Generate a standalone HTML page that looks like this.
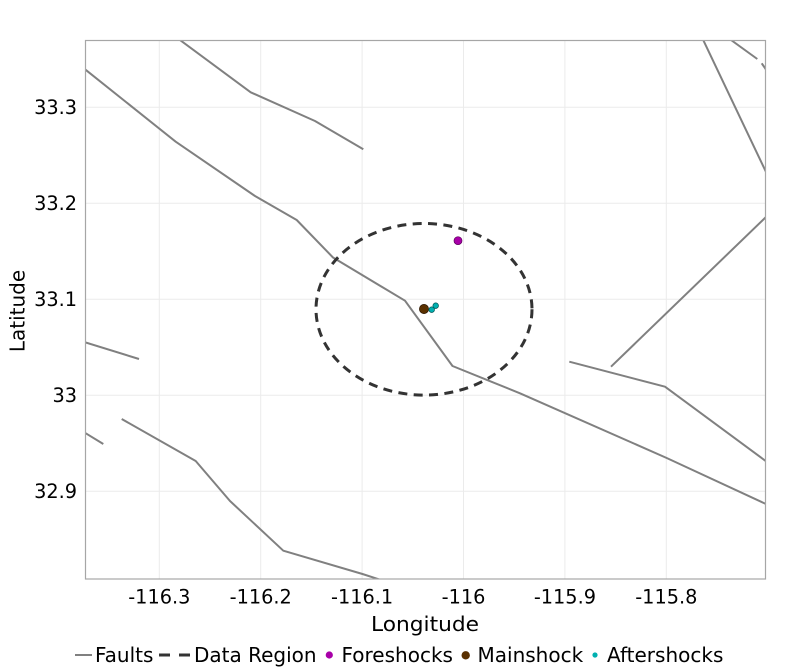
<!DOCTYPE html>
<html>
<head>
<meta charset="utf-8">
<style>
html,body{margin:0;padding:0;background:#fff;}
svg{display:block;}
text{font-family:"DejaVu Sans","Liberation Sans",sans-serif;fill:#000;}
</style>
</head>
<body>
<svg width="800" height="670" viewBox="0 0 800 670" xmlns="http://www.w3.org/2000/svg">
<defs>
<clipPath id="pc"><rect x="85.5" y="40" width="680" height="539"/></clipPath>
</defs>
<rect x="0" y="0" width="800" height="670" fill="#fff"/>
<!-- grid -->
<g stroke="#ebebeb" stroke-width="1">
<line x1="159.3" y1="40" x2="159.3" y2="579"/>
<line x1="260.7" y1="40" x2="260.7" y2="579"/>
<line x1="362.1" y1="40" x2="362.1" y2="579"/>
<line x1="463.5" y1="40" x2="463.5" y2="579"/>
<line x1="564.9" y1="40" x2="564.9" y2="579"/>
<line x1="666.3" y1="40" x2="666.3" y2="579"/>
<line x1="85.5" y1="107.3" x2="765.5" y2="107.3"/>
<line x1="85.5" y1="203.3" x2="765.5" y2="203.3"/>
<line x1="85.5" y1="299.3" x2="765.5" y2="299.3"/>
<line x1="85.5" y1="395.3" x2="765.5" y2="395.3"/>
<line x1="85.5" y1="491.3" x2="765.5" y2="491.3"/>
</g>
<g clip-path="url(#pc)" fill="none" stroke="#808080" stroke-width="2" stroke-linejoin="round">
<polyline points="84,68.5 175.7,141.7 255,196 296.7,220 333,257.5 405,300.7 452.5,366 520,393.3 666.7,458 767,504.5"/>
<polyline points="177,37.8 250.7,92.3 315,121 363.3,149.3"/>
<polyline points="569.3,361.7 665,386.7 767,462"/>
<polyline points="611,366.7 767,216"/>
<polyline points="702.5,38.5 766,172"/>
<polyline points="731,40 757.3,59"/>
<polyline points="761.7,63.3 767,71"/>
<polyline points="84,342 139,359"/>
<polyline points="84,432.2 103.3,444"/>
<polyline points="121.7,419 195.7,461 230,501 283.3,550.7 362.5,574 384,581"/>
</g>
<ellipse cx="424" cy="309.3" rx="108" ry="85.8" fill="none" stroke="#333" stroke-width="3" stroke-dasharray="9 6.4" clip-path="url(#pc)"/>
<!-- points -->
<circle cx="458" cy="240.7" r="4" fill="#a800a8" stroke="#5a005a" stroke-width="0.7"/>
<circle cx="424" cy="309" r="4.6" fill="#5a3000" stroke="#2a1500" stroke-width="0.7"/>
<circle cx="431.7" cy="309.7" r="2.8" fill="#00b0b0" stroke="#005555" stroke-width="0.7"/>
<circle cx="435.7" cy="305.7" r="2.8" fill="#00b0b0" stroke="#005555" stroke-width="0.7"/>
<!-- panel border -->
<rect x="85.5" y="40.5" width="680" height="538.5" fill="none" stroke="#a6a6a6" stroke-width="1.2"/>
<!-- y tick labels -->
<g font-size="19.3" text-anchor="end">
<text x="77" y="114">33.3</text>
<text x="77" y="210">33.2</text>
<text x="77" y="306">33.1</text>
<text x="77" y="402">33</text>
<text x="77" y="498">32.9</text>
</g>
<!-- x tick labels -->
<g font-size="19.3" text-anchor="middle">
<text x="159.3" y="603.3">-116.3</text>
<text x="260.7" y="603.3">-116.2</text>
<text x="362.1" y="603.3">-116.1</text>
<text x="463.5" y="603.3">-116</text>
<text x="564.9" y="603.3">-115.9</text>
<text x="666.3" y="603.3">-115.8</text>
</g>
<!-- axis titles -->
<text x="371" y="631" font-size="20.5" textLength="108" lengthAdjust="spacingAndGlyphs">Longitude</text>
<text transform="translate(24.5,311) rotate(-90)" font-size="20" text-anchor="middle">Latitude</text>
<!-- legend -->
<line x1="75" y1="655" x2="92" y2="655" stroke="#808080" stroke-width="2"/>
<text x="95" y="662" font-size="20">Faults</text>
<line x1="159" y1="655" x2="170" y2="655" stroke="#333" stroke-width="3"/>
<line x1="179" y1="655" x2="190" y2="655" stroke="#333" stroke-width="3"/>
<text x="194" y="662" font-size="20">Data Region</text>
<circle cx="329.3" cy="655" r="3.6" fill="#a800a8"/>
<text x="341.5" y="662" font-size="20">Foreshocks</text>
<circle cx="465.7" cy="655.3" r="4.2" fill="#5a3000"/>
<text x="477.5" y="662" font-size="20">Mainshock</text>
<circle cx="595" cy="655" r="2.6" fill="#00b0b0"/>
<text x="607" y="662" font-size="20">Aftershocks</text>
</svg>
</body>
</html>
